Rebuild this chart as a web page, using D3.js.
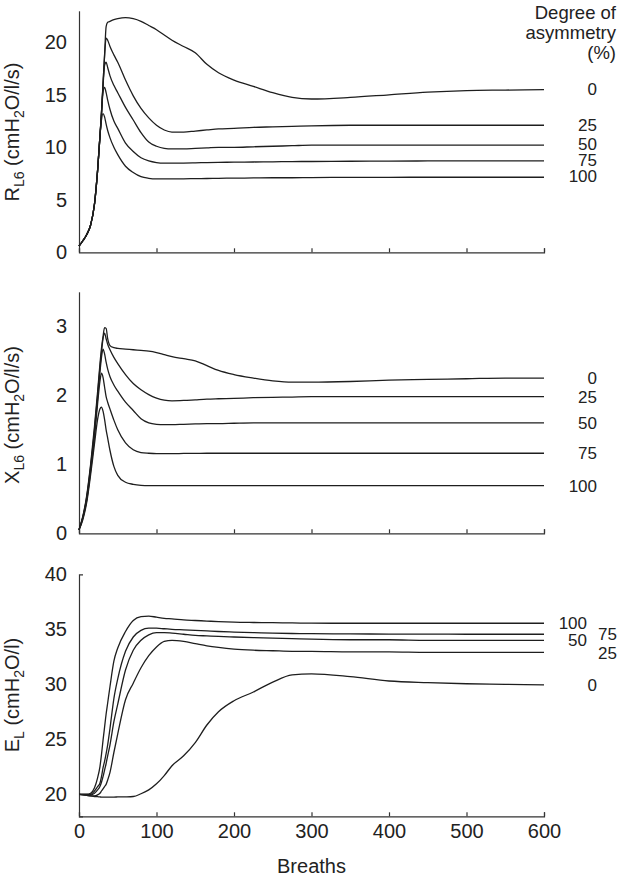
<!DOCTYPE html>
<html><head><meta charset="utf-8">
<script src="https://cdn.jsdelivr.net/npm/d3@7"></script>
<style>
html,body{margin:0;padding:0;background:#fff;}
svg text{font-family:"Liberation Sans",Arial,sans-serif;fill:#222;}
</style></head>
<body><svg id="chart" width="618" height="881"></svg>
<script>
// Shared breath grid
const breaths = [0,5,10,15,20,24,27,29,31,33,35,37,40,45,50,60,70,80,90,100,110,120,135,150,165,180,200,225,250,275,300,350,400,450,500,550,600];
const asymmetry = ["0","25","50","75","100"];
const xTicks = [0,100,200,300,400,500,600];

// Panel 1: R_L6 (cmH2O/l/s)
const r0   = [0.6,1.1,1.7,2.6,4.6,7.8,11.0,13.3,16.0,18.8,21.5,21.9,22.0,22.15,22.25,22.35,22.25,22.0,21.6,21.2,20.7,20.2,19.6,19.0,17.9,17.1,16.4,15.8,15.2,14.75,14.6,14.75,15.0,15.25,15.4,15.45,15.5];
const r25  = [0.6,1.1,1.7,2.6,4.6,7.8,11.0,13.3,16.0,18.7,20.4,20.2,19.6,18.8,18.1,16.4,14.9,13.7,12.8,12.1,11.65,11.45,11.45,11.55,11.65,11.75,11.8,11.9,11.95,12.0,12.05,12.1,12.1,12.1,12.1,12.1,12.1];
const r50  = [0.6,1.1,1.7,2.6,4.6,7.8,11.0,13.2,15.8,17.8,18.1,17.6,16.8,15.9,15.2,13.8,12.6,11.4,10.5,10.1,9.9,9.85,9.85,9.9,9.95,10.0,10.0,10.05,10.1,10.15,10.2,10.2,10.2,10.2,10.2,10.2,10.2];
const r75  = [0.6,1.1,1.7,2.6,4.6,7.8,11.0,13.1,15.3,15.7,15.2,14.5,13.6,12.5,11.8,10.4,9.6,9.0,8.7,8.55,8.5,8.5,8.5,8.52,8.55,8.57,8.58,8.6,8.62,8.64,8.65,8.67,8.68,8.7,8.7,8.7,8.7];
const r100 = [0.6,1.1,1.7,2.6,4.6,7.8,11.0,12.6,13.2,12.9,12.2,11.6,10.9,10.0,9.3,8.2,7.6,7.2,7.05,7.0,7.0,7.0,7.0,7.02,7.03,7.05,7.06,7.08,7.1,7.1,7.12,7.13,7.14,7.15,7.15,7.15,7.15];
const rTicks = [0,5,10,15,20];

// Panel 2: X_L6 (cmH2O/l/s)
const x0   = [0.05,0.25,0.55,1.0,1.55,2.05,2.45,2.68,2.85,2.98,2.97,2.82,2.72,2.69,2.68,2.67,2.66,2.65,2.64,2.62,2.59,2.56,2.53,2.5,2.43,2.36,2.3,2.25,2.21,2.19,2.19,2.2,2.22,2.23,2.24,2.25,2.25];
const x25  = [0.05,0.24,0.53,0.97,1.5,2.0,2.4,2.62,2.82,2.9,2.82,2.74,2.66,2.55,2.46,2.3,2.17,2.08,2.01,1.96,1.93,1.92,1.925,1.935,1.945,1.95,1.955,1.965,1.97,1.975,1.98,1.98,1.98,1.98,1.98,1.98,1.98];
const x50  = [0.05,0.23,0.5,0.93,1.45,1.95,2.33,2.55,2.67,2.6,2.48,2.38,2.27,2.15,2.06,1.9,1.78,1.66,1.6,1.58,1.575,1.575,1.58,1.585,1.59,1.59,1.595,1.6,1.6,1.6,1.6,1.6,1.6,1.6,1.6,1.6,1.6];
const x75  = [0.05,0.22,0.48,0.9,1.4,1.88,2.2,2.32,2.26,2.12,1.98,1.9,1.8,1.64,1.5,1.31,1.21,1.17,1.16,1.155,1.155,1.155,1.157,1.158,1.16,1.16,1.16,1.16,1.16,1.16,1.16,1.16,1.16,1.16,1.16,1.16,1.16];
const x100 = [0.05,0.2,0.45,0.85,1.3,1.65,1.8,1.83,1.77,1.65,1.5,1.38,1.2,0.97,0.84,0.74,0.71,0.695,0.69,0.69,0.69,0.69,0.69,0.69,0.69,0.69,0.69,0.69,0.69,0.69,0.69,0.69,0.69,0.69,0.69,0.69,0.69];
const xlTicks = [0,1,2,3];

// Panel 3: E_L (cmH2O/l)
const e0   = [20,19.95,19.9,19.85,19.8,19.78,19.76,19.75,19.75,19.75,19.75,19.75,19.75,19.75,19.76,19.77,19.8,20.05,20.4,20.95,21.7,22.6,23.5,24.7,26.3,27.5,28.5,29.3,30.2,30.85,30.95,30.7,30.3,30.15,30.05,30.0,29.95];
const e25  = [20,19.95,19.9,19.85,19.85,19.95,20.1,20.3,20.5,20.7,20.9,21.3,22.0,23.8,25.5,28.6,30.1,31.5,32.6,33.4,33.9,34.0,33.9,33.7,33.5,33.35,33.2,33.1,33.05,33.0,33.0,32.95,32.95,32.9,32.9,32.9,32.9];
const e50  = [20,20,20,19.95,20.1,20.4,20.7,21.1,21.6,22.2,22.8,23.5,24.5,26.6,28.2,31.3,33.1,34.0,34.5,34.7,34.7,34.65,34.55,34.45,34.4,34.35,34.3,34.25,34.2,34.15,34.1,34.05,34.05,34.0,34.0,34.0,34.0];
const e75  = [20,20,20,20,20.3,20.7,21.0,21.6,22.4,23.0,23.7,24.5,26.0,28.7,30.5,33.0,34.3,34.9,35.1,35.1,35.05,35.0,34.95,34.9,34.85,34.8,34.75,34.7,34.65,34.62,34.6,34.58,34.57,34.56,34.55,34.55,34.55];
const e100 = [20,20,20,20.1,20.6,21.5,22.5,23.6,24.9,26.1,27.3,28.3,29.8,32.1,33.3,34.8,35.8,36.15,36.2,36.1,36.0,35.95,35.85,35.8,35.75,35.7,35.65,35.62,35.6,35.58,35.56,35.55,35.55,35.55,35.55,35.55,35.55];
const eTicks = [20,25,30,35,40];

const svg = d3.select("#chart");
const x = d3.scaleLinear().domain([0,600]).range([79,544]);

const panels = [
  {series:[r0,r25,r50,r75,r100], domain:[0,23], range:[252.3,10.8], ticks:rTicks, fmt:d3.format("d"),
   title:[["R",""],["L6","sub"],[" (cmH",""],["2","sub"],["O/l/s)",""]], titleY:132, showX:false, topCap:false,
   labels:[{t:"0",x:597,y:89},{t:"25",x:597,y:125},{t:"50",x:597,y:144},{t:"75",x:597,y:160},{t:"100",x:597,y:176}]},
  {series:[x0,x25,x50,x75,x100], domain:[0,3.5], range:[533.3,291.8], ticks:xlTicks, fmt:d3.format("d"),
   title:[["X",""],["L6","sub"],[" (cmH",""],["2","sub"],["O/l/s)",""]], titleY:415, showX:false, topCap:false,
   labels:[{t:"0",x:597,y:378},{t:"25",x:597,y:397},{t:"50",x:597,y:423},{t:"75",x:597,y:453},{t:"100",x:597,y:486}]},
  {series:[e0,e25,e50,e75,e100], domain:[18,40], range:[816.3,574.3], ticks:eTicks, fmt:d3.format("d"),
   title:[["E",""],["L","sub"],[" (cmH",""],["2","sub"],["O/l)",""]], titleY:695, showX:true, topCap:true,
   labels:[{t:"0",x:597,y:685},{t:"25",x:617,y:653},{t:"50",x:587,y:640.5},{t:"75",x:617,y:634.5},{t:"100",x:587,y:623}]}
];

panels.forEach(p => {
  const y = d3.scaleLinear().domain(p.domain).range(p.range);
  const g = svg.append("g");

  // x axis
  const xa = d3.axisBottom(x).tickValues(xTicks).tickSize(-4).tickSizeOuter(-4).tickPadding(8)
    .tickFormat(p.showX ? d3.format("d") : () => "");
  const gx = g.append("g").attr("transform", `translate(0,${p.range[0]})`).call(xa);
  gx.selectAll("path,line").attr("stroke","#333").attr("stroke-width",1.2);
  gx.selectAll("text").attr("font-size",20).attr("fill","#222").attr("font-family","Liberation Sans, Arial, sans-serif");

  // y axis
  const ya = d3.axisLeft(y).tickValues(p.ticks).tickSize(0).tickSizeOuter(p.topCap ? -4 : 0).tickPadding(12).tickFormat(p.fmt);
  const gy = g.append("g").attr("transform", `translate(79,0)`).call(ya);
  gy.selectAll("path,line").attr("stroke","#333").attr("stroke-width",1.2);
  gy.selectAll("text").attr("font-size",20).attr("fill","#222").attr("font-family","Liberation Sans, Arial, sans-serif");

  // lines
  const line = d3.line().x((d,i) => x(breaths[i])).y(d => y(d)).curve(d3.curveMonotoneX);
  g.selectAll("path.series").data(p.series).join("path").attr("class","series")
    .attr("d", line).attr("fill","none").attr("stroke","#1e1e1e").attr("stroke-width",1.3);

  // y title
  const t = g.append("text").attr("transform", `translate(19,${p.titleY}) rotate(-90)`)
    .attr("text-anchor","middle").attr("font-size",20);
  let prevSub = false;
  p.title.forEach(([s,kind]) => {
    const ts = t.append("tspan").text(s);
    if (kind === "sub") { ts.attr("font-size",14).attr("dy", prevSub ? 0 : 5); prevSub = true; }
    else { if (prevSub) ts.attr("dy",-5); prevSub = false; }
  });

  // right labels
  g.selectAll("text.lab").data(p.labels).join("text").attr("class","lab")
    .attr("x", d => d.x).attr("y", d => d.y).attr("dy","0.35em")
    .attr("text-anchor","end").attr("font-size",17).text(d => d.t);
});

// legend header
const hdr = svg.append("text").attr("text-anchor","end").attr("font-size",18.5);
[["Degree of",18.5],["asymmetry",38.5],["(%)",59]].forEach(([s,yy]) =>
  hdr.append("tspan").attr("x",616).attr("y",yy).text(s));

// x title
svg.append("text").attr("x", x(300)).attr("y", 873).attr("text-anchor","middle").attr("font-size",20).text("Breaths");
</script></body></html>
